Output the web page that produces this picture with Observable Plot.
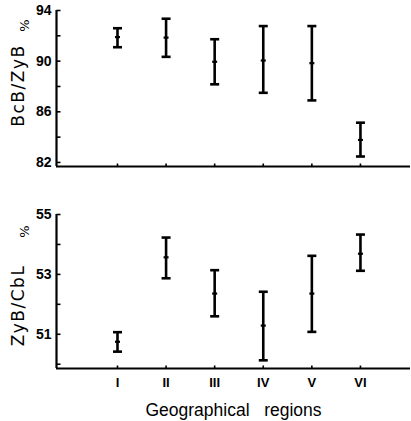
<!DOCTYPE html>
<html><head><meta charset="utf-8">
<script src="https://cdn.jsdelivr.net/npm/d3@7"></script>
<script src="https://cdn.jsdelivr.net/npm/@observablehq/plot@0.6"></script>
<style>
body{margin:0;background:#fff}
#c{width:411px;height:421px}
svg{display:block}
svg text{white-space:pre}
</style>
</head><body><div id="c"></div>
<script>
// Data
const regions = ["I","II","III","IV","V","VI"];
const regionIndex = [1,2,3,4,5,6];
const bcbMean = [91.9, 91.86, 89.95, 90.05, 89.84, 83.78];
const bcbHigh = [92.6, 93.35, 91.73, 92.77, 92.77, 85.14];
const bcbLow  = [91.1, 90.34, 88.17, 87.5, 86.9, 82.47];
const zybMean = [50.75, 53.57, 52.36, 51.29, 52.36, 53.69];
const zybHigh = [51.07, 54.23, 53.14, 52.42, 53.62, 54.33];
const zybLow  = [50.42, 52.87, 51.6, 50.13, 51.08, 53.12];
const topTicks = [82,84,86,88,90,92,94];
const topLabels = [82,86,90,94];
const botTicks = [50,51,52,53,54,55];
const botLabels = [51,53,55];
const topTitle = "BcB/ZyB";
const botTitle = "ZyB/CbL";
const unit = "%";
const xTitle = "Geographical   regions";

const xDomain = [-0.255, 7.03];
const font = "'Liberation Sans', Arial, sans-serif";
const titleFont = "'DejaVu Sans', sans-serif";

const capSym = {draw(ctx){ctx.moveTo(-4.5,0);ctx.lineTo(4.5,0);}};
const midSym = {draw(ctx){ctx.moveTo(-2.5,0);ctx.lineTo(2.5,0);}};
const yTickSym = {draw(ctx){ctx.moveTo(0,0);ctx.lineTo(4,0);}};
const xTickSym = {draw(ctx){ctx.moveTo(0,0);ctx.lineTo(0,-3);}};

function panel({mean, high, low, domain, ticks, labels, height, marginTop, marginBottom, title, titleDy, unitDy, showX}) {
  const data = regionIndex.map((x,i)=>({x, region: regions[i], mean: mean[i], high: high[i], low: low[i]}));
  const y0 = domain[0];
  const x0 = xDomain[0];
  const marks = [
    Plot.ruleY([y0], {strokeWidth: 2.2}),
    Plot.ruleX([x0], {strokeWidth: 2.2}),
    Plot.dot(ticks, {x: () => x0, y: d => d, symbol: yTickSym, stroke: "black", strokeWidth: 1.6}),
    Plot.axisY({ticks: labels, tickFormat: d => String(d), tickSize: 0, tickPadding: 5, fontSize: 14, fontWeight: "bold", label: null}),
    Plot.dot(regionIndex, {x: d => d, y: () => y0, symbol: xTickSym, stroke: "black", strokeWidth: 1.6}),
    Plot.ruleX(data, {x: "x", y1: "low", y2: "high", strokeWidth: 2.6}),
    Plot.dot(data, {x: "x", y: "high", symbol: capSym, stroke: "black", strokeWidth: 2.6}),
    Plot.dot(data, {x: "x", y: "low", symbol: capSym, stroke: "black", strokeWidth: 2.6}),
    Plot.dot(data, {x: "x", y: "mean", symbol: midSym, stroke: "black", strokeWidth: 2.2}),
    Plot.text([title], {frameAnchor: "left", textAnchor: "middle", lineAnchor: "middle", rotate: -90, dx: -38, dy: titleDy, fontSize: 17, fontFamily: titleFont}),
    Plot.text([unit], {frameAnchor: "top-left", textAnchor: "middle", lineAnchor: "middle", rotate: -90, dx: -32, dy: unitDy, fontSize: 13, fontFamily: titleFont})
  ];
  if (showX) {
    marks.push(Plot.axisX({ticks: regionIndex, tickFormat: i => regions[i-1], tickSize: 0, tickPadding: 9, fontSize: 13, fontWeight: "bold", label: null}));
    marks.push(Plot.text([xTitle], {frameAnchor: "bottom", textAnchor: "middle", dy: 42, fontSize: 17.5, lineAnchor: "middle"}));
  } else {
    marks.push(Plot.axisX({ticks: [], label: null}));
  }
  const svg = Plot.plot({
    width: 411, height, marginTop, marginBottom, marginLeft: 56, marginRight: 1,
    style: {fontFamily: font, color: "black", background: "white"},
    x: {domain: xDomain},
    y: {domain},
    marks
  });
  d3.select(svg).selectAll("text").filter(function() { return this.textContent === title; })
    .attr("letter-spacing", 1.5);
  return svg;
}

const c = document.getElementById("c");
c.appendChild(panel({mean: bcbMean, high: bcbHigh, low: bcbLow, domain: [81.68, 94], ticks: topTicks, labels: topLabels,
  height: 172, marginTop: 10, marginBottom: 6, title: topTitle, titleDy: -3, unitDy: 15, showX: false}));
c.appendChild(panel({mean: zybMean, high: zybHigh, low: zybLow, domain: [49.857, 55], ticks: botTicks, labels: botLabels,
  height: 249, marginTop: 42, marginBottom: 53, title: botTitle, titleDy: 14, unitDy: 17, showX: true}));
</script>
</body></html>
